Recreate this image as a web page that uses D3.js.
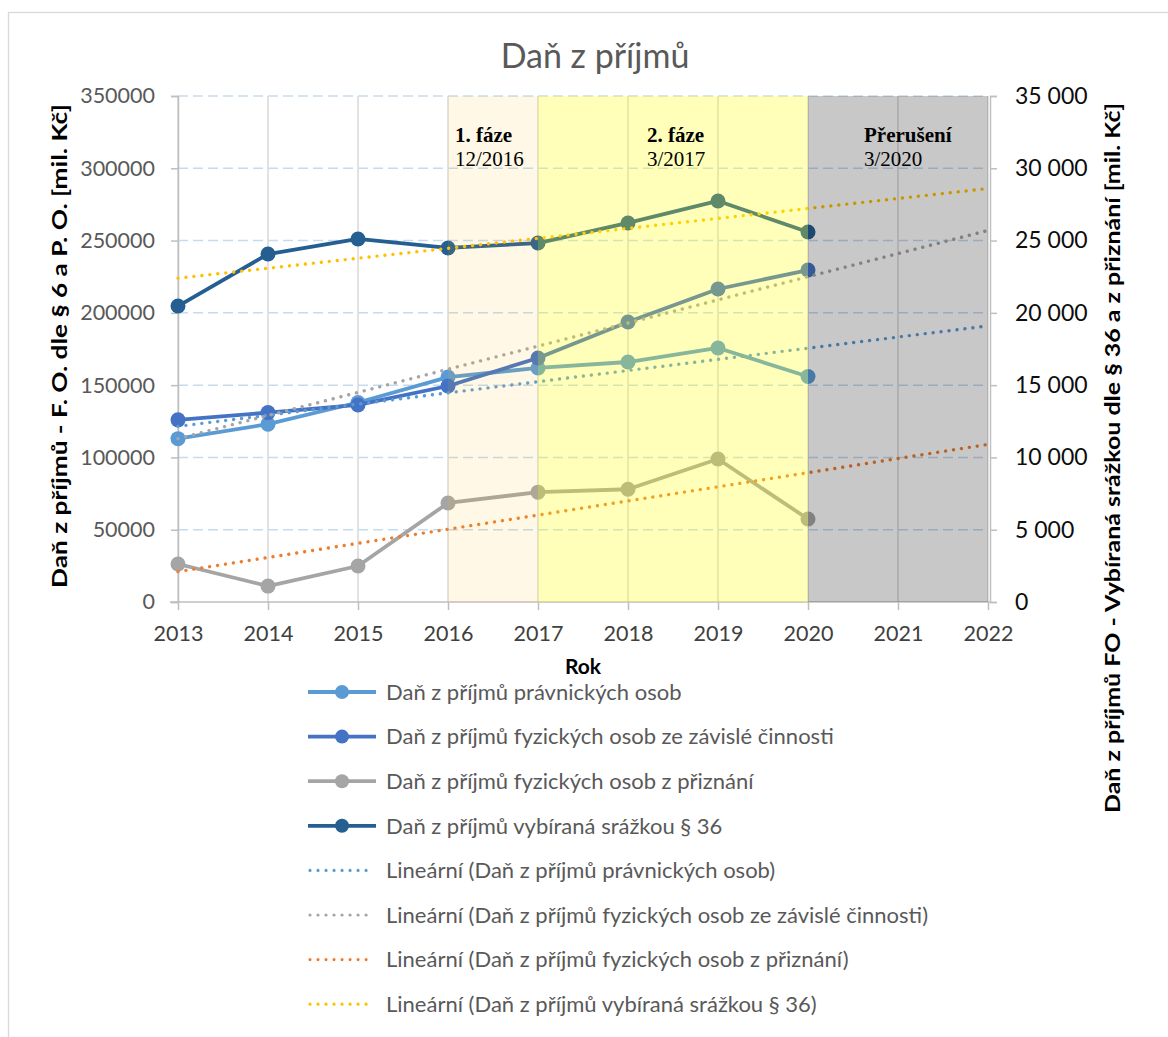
<!DOCTYPE html>
<html lang="cs">
<head>
    <meta charset="UTF-8">
    <title>Daň z příjmů</title>
    <script src="https://d3js.org/d3.v7.min.js"></script>
    <style>
        body {
            margin: 0;
            background-color: #fff;
            font-family: Lato, sans-serif;
        }
        .tick text {
            font-family: Lato, sans-serif;
        }
    </style>
</head>
<body>
    <svg id="chart" width="1168" height="1037"></svg>
    <script>
        // data
        const years = [2013, 2014, 2015, 2016, 2017, 2018, 2019, 2020];
        // left axis (mil. Kč)
        const pravnickeOsoby = [113000, 123000, 138000, 155600, 161900, 166000, 175700, 156000];
        const zavislaCinnost = [126000, 131000, 136300, 149400, 168800, 193700, 216500, 229600];
        // right axis (mil. Kč)
        const zPriznani = [2630, 1100, 2490, 6850, 7600, 7800, 9890, 5740];
        const srazkou36 = [20470, 24070, 25110, 24490, 24830, 26220, 27740, 25590];

        // linear trend lines, value at 2013 and at 2022
        const trendYears = [2013, 2022];
        const trendPravnicke = [121500, 191000];
        const trendZavisla = [113000, 257000];
        const trendPriznani = [2100, 10900];
        const trendSrazkou = [22400, 28600];

        const xTicks = [2013, 2014, 2015, 2016, 2017, 2018, 2019, 2020, 2021, 2022];
        const leftTicks = [0, 50000, 100000, 150000, 200000, 250000, 300000, 350000];
        const rightTicks = [0, 5000, 10000, 15000, 20000, 25000, 30000, 35000];

        const phaseStart = [2016, 2017, 2020];
        const phaseEnd = [2017, 2020, 2022];
        const phaseTitle = ["1. fáze", "2. fáze", "Přerušení"];
        const phaseDate = ["12/2016", "3/2017", "3/2020"];

        const seriesNames = [
            "Daň z příjmů právnických osob",
            "Daň z příjmů fyzických osob ze závislé činnosti",
            "Daň z příjmů fyzických osob z přiznání",
            "Daň z příjmů vybíraná srážkou § 36"
        ];

        const svg = d3.select("#chart");

        const x = d3.scaleLinear().domain([2013, 2022]).range([178, 988]);
        const yL = d3.scaleLinear().domain([0, 350000]).range([602, 96]);
        const yR = d3.scaleLinear().domain([0, 35000]).range([602, 96]);

        const colors = ["#5B9BD5", "#4472C4", "#A5A5A5", "#255E91"];
        const trendColors = ["#5B9BD5", "#A5A5A5", "#ED7D31", "#FFC000"];

        const series = [
            { name: seriesNames[0], values: pravnickeOsoby, y: yL, trend: trendPravnicke },
            { name: seriesNames[1], values: zavislaCinnost, y: yL, trend: trendZavisla },
            { name: seriesNames[2], values: zPriznani, y: yR, trend: trendPriznani },
            { name: seriesNames[3], values: srazkou36, y: yR, trend: trendSrazkou }
        ];

        // chart frame
        svg.append("rect")
            .attr("x", 8.5).attr("y", 12.5)
            .attr("width", 1200).attr("height", 1100)
            .attr("fill", "none")
            .attr("stroke", "#D9D9D9")
            .attr("stroke-width", 1.3);

        // title
        svg.append("text")
            .attr("x", 595).attr("y", 68)
            .attr("text-anchor", "middle")
            .attr("font-size", 34)
            .attr("fill", "#595959")
            .text("Daň z příjmů");

        // horizontal grid (dashed)
        svg.append("g")
            .selectAll("line")
            .data(leftTicks.filter(d => d > 0))
            .enter().append("line")
            .attr("x1", x(2013)).attr("x2", x(2022))
            .attr("y1", d => yL(d)).attr("y2", d => yL(d))
            .attr("stroke", "#C5DBF0")
            .attr("stroke-width", 1.5)
            .attr("stroke-dasharray", "10,5");

        // vertical grid
        svg.append("g")
            .selectAll("line")
            .data(xTicks)
            .enter().append("line")
            .attr("x1", d => x(d)).attr("x2", d => x(d))
            .attr("y1", yL(350000)).attr("y2", yL(0))
            .attr("stroke", "#D9D9D9")
            .attr("stroke-width", 1.5);

        // axes
        const axisX = svg.append("g")
            .attr("transform", `translate(0,${yL(0)})`)
            .call(d3.axisBottom(x).tickValues(xTicks).tickFormat(d3.format("d")).tickSize(8).tickPadding(16));

        const axisL = svg.append("g")
            .attr("transform", `translate(${x(2013)},0)`)
            .call(d3.axisLeft(yL).tickValues(leftTicks).tickFormat(d3.format("d")).tickSize(7).tickPadding(16));

        const csLocale = d3.formatLocale({ decimal: ",", thousands: " ", grouping: [3], currency: ["", ""] });
        const axisR = svg.append("g")
            .attr("transform", `translate(${x(2022) + 2},0)`)
            .call(d3.axisRight(yR).tickValues(rightTicks).tickFormat(csLocale.format(",d")).tickSize(7).tickPadding(18));

        [axisX, axisL, axisR].forEach(a => {
            a.select(".domain").attr("stroke", "#BFBFBF").attr("stroke-width", 1.5);
            a.selectAll(".tick line").attr("stroke", "#BFBFBF").attr("stroke-width", 1.5);
            a.selectAll(".tick text").attr("font-size", 21.5);
        });
        axisX.select(".domain").attr("d", `M${x(2013) - 8},0H${x(2022) + 2}`);
        axisX.selectAll(".tick text").attr("fill", "#404040");
        axisL.selectAll(".tick text").attr("fill", "#595959");
        axisR.selectAll(".tick text").attr("fill", "#0D0D0D").attr("font-size", 23);

        // series lines
        const plot = svg.append("g");
        series.forEach((s, i) => {
            const line = d3.line()
                .x((d, j) => x(years[j]))
                .y(d => s.y(d));
            plot.append("path")
                .datum(s.values)
                .attr("d", line)
                .attr("fill", "none")
                .attr("stroke", colors[i])
                .attr("stroke-width", 3.8)
                .attr("stroke-linejoin", "round");
            plot.selectAll(null)
                .data(s.values)
                .enter().append("circle")
                .attr("cx", (d, j) => x(years[j]))
                .attr("cy", d => s.y(d))
                .attr("r", 7.5)
                .attr("fill", colors[i]);
        });

        // trend lines (dotted)
        series.forEach((s, i) => {
            plot.append("line")
                .attr("x1", x(trendYears[0])).attr("x2", x(trendYears[1]))
                .attr("y1", s.y(s.trend[0])).attr("y2", s.y(s.trend[1]))
                .attr("stroke", trendColors[i])
                .attr("stroke-width", 3.4)
                .attr("stroke-linecap", "round")
                .attr("stroke-dasharray", "0.01,8");
        });

        // phase bands over the plot
        const bandFill = ["rgba(255,185,15,0.1)", "rgba(255,255,0,0.27)", "rgba(0,0,0,0.215)"];
        svg.append("g")
            .selectAll("rect")
            .data(phaseStart)
            .enter().append("rect")
            .attr("x", d => x(d))
            .attr("y", yL(350000))
            .attr("width", (d, i) => x(phaseEnd[i]) - x(d))
            .attr("height", yL(0) - yL(350000))
            .attr("fill", (d, i) => bandFill[i]);

        // phase labels
        const labelOffset = [7, 109, 56];
        const phaseLabels = svg.append("g")
            .attr("font-family", "'Liberation Serif', 'Times New Roman', serif")
            .attr("font-size", 21)
            .attr("fill", "#000");
        phaseStart.forEach((d, i) => {
            phaseLabels.append("text")
                .attr("x", x(d) + labelOffset[i]).attr("y", 142)
                .attr("font-weight", "bold")
                .text(phaseTitle[i]);
            phaseLabels.append("text")
                .attr("x", x(d) + labelOffset[i]).attr("y", 166)
                .text(phaseDate[i]);
        });

        // axis titles
        svg.append("text")
            .attr("transform", "translate(67,346) rotate(-90)")
            .attr("text-anchor", "middle")
            .attr("font-size", 20)
            .attr("font-weight", "bold")
            .attr("textLength", 484)
            .attr("lengthAdjust", "spacingAndGlyphs")
            .text("Daň z příjmů - F. O. dle § 6  a P. O.  [mil. Kč]");

        svg.append("text")
            .attr("transform", "translate(1120,458) rotate(-90)")
            .attr("text-anchor", "middle")
            .attr("font-size", 20)
            .attr("font-weight", "bold")
            .attr("textLength", 710)
            .attr("lengthAdjust", "spacingAndGlyphs")
            .text("Daň z příjmů FO - Vybíraná srážkou dle § 36 a z přiznání [mil. Kč]");

        svg.append("text")
            .attr("x", 583).attr("y", 674)
            .attr("text-anchor", "middle")
            .attr("font-size", 21)
            .attr("font-weight", "bold")
            .text("Rok");

        // legend
        const legendItems = seriesNames.map((n, i) => ({ label: n, color: colors[i], trend: false }))
            .concat(seriesNames.map((n, i) => ({ label: `Lineární (${n})`, color: trendColors[i], trend: true })));

        const legend = svg.append("g");
        legendItems.forEach((d, i) => {
            const cy = 692 + i * 44.6;
            if (d.trend) {
                legend.append("line")
                    .attr("x1", 310).attr("x2", 374)
                    .attr("y1", cy).attr("y2", cy)
                    .attr("stroke", d.color)
                    .attr("stroke-width", 3.2)
                    .attr("stroke-linecap", "round")
                    .attr("stroke-dasharray", "0.01,8");
            } else {
                legend.append("line")
                    .attr("x1", 308).attr("x2", 376)
                    .attr("y1", cy).attr("y2", cy)
                    .attr("stroke", d.color)
                    .attr("stroke-width", 3.8);
                legend.append("circle")
                    .attr("cx", 342).attr("cy", cy)
                    .attr("r", 7)
                    .attr("fill", d.color);
            }
            legend.append("text")
                .attr("x", 386).attr("y", cy)
                .attr("dy", "0.35em")
                .attr("font-size", 22)
                .attr("fill", "#595959")
                .text(d.label);
        });
    </script>
</body>
</html>
